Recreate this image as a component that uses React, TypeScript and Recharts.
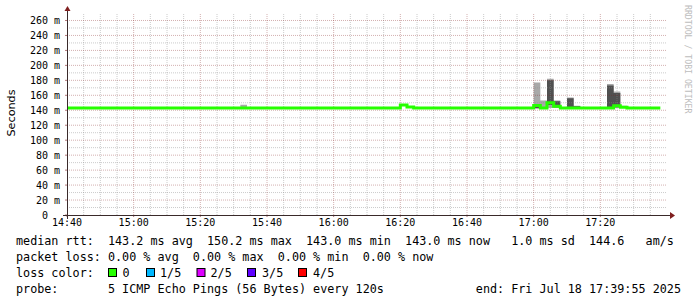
import React from 'react';
import { ComposedChart, Area, Line, XAxis, YAxis, ReferenceLine } from 'recharts';

// start of each 2-minute step, in minutes after 14:40
const times = [
  0, 2, 4, 6, 8, 10, 12, 14, 16, 18, 20, 22, 24, 26, 28, 30, 32, 34, 36, 38,
  40, 42, 44, 46, 48, 50, 52, 54, 56, 58, 60, 62, 64, 66, 68, 70, 72, 74, 76, 78,
  80, 82, 84, 86, 88, 90, 92, 94, 96, 98, 100, 102, 104, 106, 108, 110, 112, 114, 116, 118,
  120, 122, 124, 126, 128, 130, 132, 134, 136, 138, 140, 142, 144, 146, 148, 150, 152, 154, 156, 158,
  160, 162, 164, 166, 168, 170, 172, 174, 176,
];
const stepMinutes = 2;

// median rtt (ms)
const medianRtt = [
  143, 143, 143, 143, 143, 143, 143, 143, 143, 143, 143, 143, 143, 143, 143, 143, 143, 143, 143, 143,
  143, 143, 143, 143, 143, 143, 143, 143, 143, 143, 143, 143, 143, 143, 143, 143, 143, 143, 143, 143,
  143, 143, 143, 143, 143, 143, 143, 143, 143, 143, 147, 144.5, 143, 143, 143, 143, 143, 143, 143, 143,
  143, 143, 143, 143, 143, 143, 143, 143, 143, 143, 146.5, 143, 150.2, 145.5, 143, 143, 143, 143, 143, 143,
  143, 143, 146, 144, 143, 143, 143, 143, 143,
];

// smoke (ping spread) where it is visible
const smokeTimes = [52, 140, 142, 144, 146, 150, 152, 162, 164, 166];
const pingMin = [143, 142, 142, 143, 143, 143, 143, 143, 143, 143];
const pingLow = [143, 143, 143, 147, 144, 143, 143, 143, 144, 143];
const pingHigh = [144, 147, 144, 180, 152, 156, 145.5, 173, 163, 145.5];
const pingMax = [147.5, 177, 153, 182, 153, 157, 146, 175, 165, 146];

const xMajorTicks = [0, 20, 40, 60, 80, 100, 120, 140, 160];
const xTickLabels = ['14:40', '15:00', '15:20', '15:40', '16:00', '16:20', '16:40', '17:00', '17:20'];
const xMinorTicks = [
  5, 10, 15, 25, 30, 35, 45, 50, 55, 65, 70, 75, 85, 90, 95, 105, 110, 115,
  125, 130, 135, 145, 150, 155, 165, 170, 175,
];
const yMajorTicks = [0, 20, 40, 60, 80, 100, 120, 140, 160, 180, 200, 220, 240, 260];
const yTickLabels = ['0', '20 m', '40 m', '60 m', '80 m', '100 m', '120 m', '140 m', '160 m', '180 m', '200 m', '220 m', '240 m', '260 m'];
const yMinorTicks = [10, 30, 50, 70, 90, 110, 130, 150, 170, 190, 210, 230, 250];

const legendLines = [
  'median rtt:  143.2 ms avg  150.2 ms max  143.0 ms min  143.0 ms now   1.0 ms sd  144.6   am/s',
  'packet loss: 0.00 % avg  0.00 % max  0.00 % min  0.00 % now',
  'loss color:',
  'probe:       5 ICMP Echo Pings (56 Bytes) every 120s             end: Fri Jul 18 17:39:55 2025',
];
const lossLabels = ['0', '1/5', '2/5', '3/5', '4/5'];
const lossColors = ['#26ff00', '#00b8ff', '#dd00ff', '#5e00ff', '#ff0000'];
const lossBoxX = [108, 146, 196.5, 247, 298];
const lossTextX = [122.5, 160, 210.5, 262, 313];

// each step is held from its start to its end (rrd step rendering)
const data = times.flatMap((t, i) => {
  const k = smokeTimes.indexOf(t);
  const m = medianRtt[i];
  const row = {
    median: m,
    outer: k >= 0 ? [pingMin[k], pingMax[k]] : [m, m],
    inner: k >= 0 ? [pingLow[k], pingHigh[k]] : [m, m],
  };
  return [
    { t, ...row },
    { t: t + stepMinutes, ...row },
  ];
});

const MONO = '"DejaVu Sans Mono", monospace';
const MGRID = '#821e1e';
const GRID = '#8c8c8c';

const YTick = (props: any) => {
  const { x, y, payload } = props;
  const idx = yMajorTicks.indexOf(payload.value);
  const label = idx >= 0 ? yTickLabels[idx] : '';
  // unitless label keeps the unit column empty (two mono chars)
  const pad = label.includes(' ') ? 0 : 12;
  return (
    <text
      x={x - pad}
      y={y}
      dy="0.355em"
      textAnchor="end"
      style={{ fontFamily: MONO, fontSize: 10, fill: '#000' }}
    >
      {label}
    </text>
  );
};

export default function App() {
  return (
    <div style={{ position: 'absolute', left: 0, top: 0, width: 697, height: 297, background: '#fff' }}>
      <ComposedChart
        width={697}
        height={297}
        data={data}
        margin={{ top: 13, right: 30, bottom: 62, left: 7 }}
      >
        {yMinorTicks.map((v) => (
          <ReferenceLine key={'ym' + v} y={v} stroke={GRID} strokeOpacity={0.45} strokeDasharray="1 1" />
        ))}
        {xMinorTicks.map((v) => (
          <ReferenceLine key={'xm' + v} x={v} stroke={GRID} strokeOpacity={0.45} strokeDasharray="1 1" />
        ))}
        {yMajorTicks.slice(1).map((v) => (
          <ReferenceLine key={'yM' + v} y={v} stroke={MGRID} strokeOpacity={0.35} strokeDasharray="1 1" />
        ))}
        {xMajorTicks.slice(1).map((v) => (
          <ReferenceLine key={'xM' + v} x={v} stroke={MGRID} strokeOpacity={0.35} strokeDasharray="1 1" />
        ))}
        <XAxis
          type="number"
          dataKey="t"
          domain={[0, 180]}
          ticks={xMajorTicks}
          interval={0}
          allowDataOverflow
          tickFormatter={(v: number) => xTickLabels[xMajorTicks.indexOf(v)] ?? ''}
          axisLine={false}
          tickLine={{ stroke: MGRID, strokeOpacity: 0.6 }}
          tickSize={2}
          tickMargin={2}
          height={20}
          tick={{ fontFamily: MONO, fontSize: 10, fill: '#000' }}
        />
        <YAxis
          type="number"
          domain={[0, 270]}
          ticks={yMajorTicks}
          interval={0}
          allowDataOverflow
          axisLine={false}
          tickLine={{ stroke: MGRID, strokeOpacity: 0.6 }}
          tickSize={2}
          tickMargin={5}
          width={60}
          tick={<YTick />}
        />
        <Area
          dataKey="outer"
          type="linear"
          stroke="none"
          fill="#a8a8a8"
          fillOpacity={1}
          isAnimationActive={false}
          dot={false}
          activeDot={false}
        />
        <Area
          dataKey="inner"
          type="linear"
          stroke="none"
          fill="#505050"
          fillOpacity={1}
          isAnimationActive={false}
          dot={false}
          activeDot={false}
        />
        <Line
          dataKey="median"
          type="linear"
          stroke="#26ff00"
          strokeWidth={3}
          dot={false}
          activeDot={false}
          isAnimationActive={false}
        />
      </ComposedChart>
      <svg
        width={697}
        height={297}
        style={{ position: 'absolute', left: 0, top: 0, pointerEvents: 'none' }}
      >
        <line x1={63} y1={215.5} x2={671} y2={215.5} stroke="#3a2a2a" strokeWidth={1} />
        <line x1={67.5} y1={219} x2={67.5} y2={10} stroke="#3a2a2a" strokeWidth={1} />
        <polygon points="670,212 675,215.5 670,219" fill="#7f1f1f" />
        <polygon points="64.5,11 67.5,6 70.5,11" fill="#7f1f1f" />
        <text
          x={11}
          y={113}
          transform="rotate(-90 11 113)"
          textAnchor="middle"
          dominantBaseline="central"
          style={{ fontFamily: '"DejaVu Sans", sans-serif', fontSize: 11.2, fill: '#000' }}
        >
          Seconds
        </text>
        <text
          x={685}
          y={5}
          transform="rotate(90 685 5)"
          style={{ fontFamily: MONO, fontSize: 8.2, fill: '#bdbdbd' }}
        >
          RRDTOOL / TOBI OETIKER
        </text>
        {legendLines.map((s, i) => (
          <text
            key={'l' + i}
            x={16}
            y={245 + i * 16}
            style={{ fontFamily: MONO, fontSize: 11.75, fill: '#000', whiteSpace: 'pre' }}
          >
            {s}
          </text>
        ))}
        {lossLabels.map((s, i) => (
          <g key={'lc' + i}>
            <rect x={lossBoxX[i] + 0.5} y={268.5} width={8} height={8} fill={lossColors[i]} stroke="#000" strokeWidth={1} />
            <text x={lossTextX[i]} y={277} style={{ fontFamily: MONO, fontSize: 11.75, fill: '#000', whiteSpace: 'pre' }}>
              {s}
            </text>
          </g>
        ))}
      </svg>
    </div>
  );
}
